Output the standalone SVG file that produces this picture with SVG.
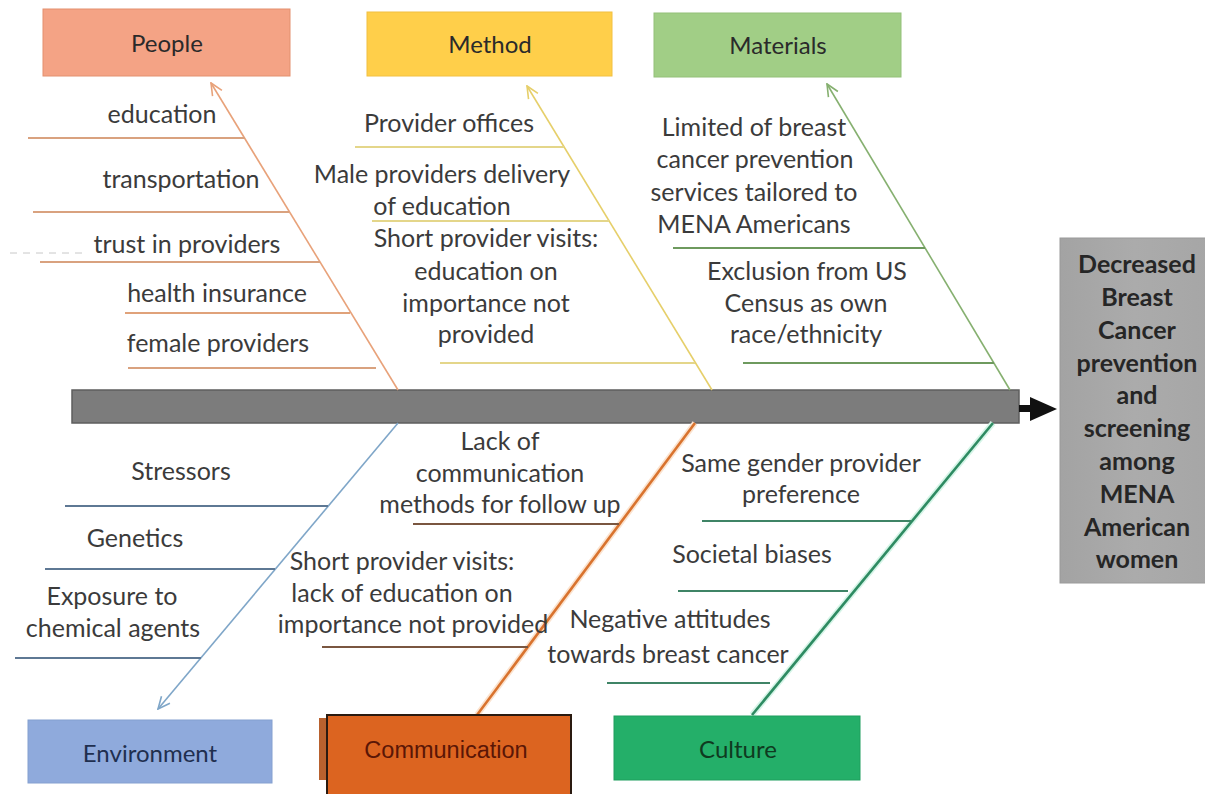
<svg xmlns="http://www.w3.org/2000/svg" width="1205" height="794" viewBox="0 0 1205 794">
  <style>
    .t { font-family: Lato, "Liberation Sans", sans-serif; font-size: 25px; fill: #3b3b3b; text-anchor: middle; }
    .h { font-family: Lato, "Liberation Sans", sans-serif; font-size: 24px; fill: #2a2a2a; text-anchor: middle; }
    .r { font-family: Lato, "Liberation Sans", sans-serif; font-size: 25px; font-weight: bold; fill: #262626; text-anchor: middle; }
    .bone { fill: none; stroke-width: 1.6; }
    .sub { fill: none; stroke-width: 2; }
  </style>
  <defs>
    <marker id="arrPeople" viewBox="0 0 14 14" refX="13" refY="7" markerWidth="14" markerHeight="14" markerUnits="userSpaceOnUse" orient="auto">
      <path d="M1,1.5 L13,7 L1,12.5" fill="none" stroke="#E8A27A" stroke-width="1.6"/>
    </marker>
    <marker id="arrMethod" viewBox="0 0 14 14" refX="13" refY="7" markerWidth="14" markerHeight="14" markerUnits="userSpaceOnUse" orient="auto">
      <path d="M1,1.5 L13,7 L1,12.5" fill="none" stroke="#E6CF6A" stroke-width="1.6"/>
    </marker>
    <marker id="arrMaterials" viewBox="0 0 14 14" refX="13" refY="7" markerWidth="14" markerHeight="14" markerUnits="userSpaceOnUse" orient="auto">
      <path d="M1,1.5 L13,7 L1,12.5" fill="none" stroke="#86B070" stroke-width="1.6"/>
    </marker>
    <marker id="arrEnv" viewBox="0 0 14 14" refX="13" refY="7" markerWidth="14" markerHeight="14" markerUnits="userSpaceOnUse" orient="auto">
      <path d="M1,1.5 L13,7 L1,12.5" fill="none" stroke="#7FA6C8" stroke-width="1.6"/>
    </marker>
    <linearGradient id="effectFill" x1="0" y1="0" x2="1" y2="0">
      <stop offset="0" stop-color="#A3A3A3"/>
      <stop offset="0.5" stop-color="#ABABAB"/>
      <stop offset="1" stop-color="#A6A6A6"/>
    </linearGradient>
  </defs>

  <rect width="1205" height="794" fill="#FFFFFF"/>

  <!-- spine and effect arrow -->
  <g id="spine">
    <rect x="72" y="390" width="947" height="33" fill="#7C7C7C" stroke="#5E5E5E" stroke-width="1.5"/>
    <rect x="1019" y="405" width="13" height="7" fill="#111111"/>
    <path d="M1030,397 L1057,409 L1030,421 Z" fill="#111111"/>
  </g>

  <!-- connectors: main bones and cause branches -->
  <g id="connectors">
    <!-- People -->
    <line class="bone" x1="398" y1="390" x2="211" y2="83" stroke="#E8A27A" marker-end="url(#arrPeople)"/>
    <line class="sub" x1="28" y1="138" x2="245" y2="138" stroke="#D9A27F"/>
    <line class="sub" x1="33" y1="212" x2="289" y2="212" stroke="#D9A27F"/>
    <line x1="10" y1="253" x2="88" y2="253" stroke="#C8C8C8" stroke-width="1" stroke-dasharray="7 6"/>
    <line class="sub" x1="40" y1="262" x2="320" y2="262" stroke="#D9A27F"/>
    <line class="sub" x1="125" y1="313" x2="350" y2="313" stroke="#E0A27A"/>
    <line class="sub" x1="128" y1="368" x2="376" y2="368" stroke="#D9A27F"/>

    <!-- Method -->
    <line class="bone" x1="712" y1="390" x2="527" y2="86" stroke="#E6CF6A" marker-end="url(#arrMethod)"/>
    <line class="sub" x1="355" y1="147" x2="564" y2="147" stroke="#E4D68A"/>
    <line class="sub" x1="372" y1="221" x2="609" y2="221" stroke="#E4D68A"/>
    <line class="sub" x1="440" y1="363" x2="695" y2="363" stroke="#E4D68A"/>

    <!-- Materials -->
    <line class="bone" x1="1010" y1="390" x2="827" y2="84" stroke="#86B070" marker-end="url(#arrMaterials)"/>
    <line class="sub" x1="673" y1="248" x2="925" y2="248" stroke="#6E9A5E"/>
    <line class="sub" x1="743" y1="363" x2="994" y2="363" stroke="#6E9A5E"/>

    <!-- Environment -->
    <line class="bone" x1="398" y1="423" x2="158" y2="709" stroke="#7FA6C8" marker-end="url(#arrEnv)"/>
    <line class="sub" x1="65" y1="506" x2="328" y2="506" stroke="#5E7894"/>
    <line class="sub" x1="45" y1="569" x2="275" y2="569" stroke="#5E7894"/>
    <line class="sub" x1="15" y1="658" x2="201" y2="658" stroke="#5E7894"/>

    <!-- Communication -->
    <line x1="695" y1="423" x2="477" y2="715" stroke="#FBE3CF" stroke-width="6"/>
    <line x1="695" y1="423" x2="477" y2="715" stroke="#D9732E" stroke-width="2.6"/>
    <line class="sub" x1="413" y1="524" x2="619" y2="524" stroke="#7A5640"/>
    <line class="sub" x1="322" y1="647" x2="528" y2="647" stroke="#7A5640"/>

    <!-- Culture -->
    <line x1="993" y1="423" x2="752" y2="715" stroke="#D6F5E8" stroke-width="6"/>
    <line x1="993" y1="423" x2="752" y2="715" stroke="#2E8B62" stroke-width="2.6"/>
    <line class="sub" x1="702" y1="521" x2="911" y2="521" stroke="#3F8466"/>
    <line class="sub" x1="678" y1="591" x2="848" y2="591" stroke="#3F8466"/>
    <line class="sub" x1="607" y1="683" x2="770" y2="683" stroke="#3F8466"/>
  </g>

  <!-- category boxes -->
  <g id="people">
    <rect x="43" y="9" width="247" height="67" fill="#F4A385" stroke="#E3906F" stroke-width="1"/>
    <text class="h" x="167" y="52">People</text>
  </g>
  <g id="method">
    <rect x="367" y="12" width="245" height="64" fill="#FFCF4A" stroke="#F2C040" stroke-width="1"/>
    <text class="h" x="490" y="53">Method</text>
  </g>
  <g id="materials">
    <rect x="654" y="13" width="247" height="64" fill="#A1CE86" stroke="#93C078" stroke-width="1"/>
    <text class="h" x="778" y="54">Materials</text>
  </g>
  <g id="environment">
    <rect x="28" y="720" width="244" height="63" fill="#8FAADC" stroke="#84A0D0" stroke-width="1"/>
    <text class="h" x="150" y="762" style="fill:#1F2F4F">Environment</text>
  </g>
  <g id="communication">
    <rect x="319" y="718" width="240" height="62" fill="#B8612E"/>
    <rect x="327" y="715" width="244" height="82" fill="#DC6420" stroke="#2A1A10" stroke-width="2"/>
    <text x="446" y="758" font-family="'Liberation Sans', Arial, sans-serif" font-size="23.5" fill="#5A1606" text-anchor="middle">Communication</text>
  </g>
  <g id="culture">
    <rect x="614" y="716" width="246" height="64" fill="#24AF69" stroke="#1E9E5E" stroke-width="1"/>
    <text class="h" x="738" y="758" style="fill:#0F3A20">Culture</text>
  </g>

  <!-- effect box -->
  <g id="effect">
    <rect x="1060" y="238" width="150" height="345" fill="url(#effectFill)" stroke="#9A9A9A" stroke-width="1"/>
    <text class="r" x="1137" y="273">Decreased</text>
    <text class="r" x="1137" y="306">Breast</text>
    <text class="r" x="1137" y="339">Cancer</text>
    <text class="r" x="1137" y="372">prevention</text>
    <text class="r" x="1137" y="404">and</text>
    <text class="r" x="1137" y="437">screening</text>
    <text class="r" x="1137" y="470">among</text>
    <text class="r" x="1137" y="503">MENA</text>
    <text class="r" x="1137" y="536">American</text>
    <text class="r" x="1137" y="568">women</text>
  </g>

  <!-- cause labels -->
  <g id="people-causes">
    <text class="t" x="162" y="123">education</text>
    <text class="t" x="181" y="188">transportation</text>
    <text class="t" x="187" y="253">trust in providers</text>
    <text class="t" x="217" y="302">health insurance</text>
    <text class="t" x="218" y="352">female providers</text>
  </g>
  <g id="method-causes">
    <text class="t" x="449" y="132">Provider offices</text>
    <text class="t" x="442" y="183">Male providers delivery</text>
    <text class="t" x="442" y="215">of education</text>
    <text class="t" x="486" y="247">Short provider visits:</text>
    <text class="t" x="486" y="280">education on</text>
    <text class="t" x="486" y="312">importance not</text>
    <text class="t" x="486" y="343">provided</text>
  </g>
  <g id="materials-causes">
    <text class="t" x="754" y="136">Limited of breast</text>
    <text class="t" x="755" y="168">cancer prevention</text>
    <text class="t" x="754" y="201">services tailored to</text>
    <text class="t" x="754" y="233">MENA Americans</text>
    <text class="t" x="807" y="280">Exclusion from US</text>
    <text class="t" x="806" y="312">Census as own</text>
    <text class="t" x="806" y="343">race/ethnicity</text>
  </g>
  <g id="environment-causes">
    <text class="t" x="181" y="480">Stressors</text>
    <text class="t" x="135" y="547">Genetics</text>
    <text class="t" x="112" y="605">Exposure to</text>
    <text class="t" x="113" y="637">chemical agents</text>
  </g>
  <g id="communication-causes">
    <text class="t" x="500" y="450">Lack of</text>
    <text class="t" x="500" y="482">communication</text>
    <text class="t" x="500" y="513">methods for follow up</text>
    <text class="t" x="402" y="570">Short provider visits:</text>
    <text class="t" x="402" y="602">lack of education on</text>
    <text class="t" x="413" y="633">importance not provided</text>
  </g>
  <g id="culture-causes">
    <text class="t" x="801" y="472">Same gender provider</text>
    <text class="t" x="801" y="503">preference</text>
    <text class="t" x="752" y="563">Societal biases</text>
    <text class="t" x="670" y="628">Negative attitudes</text>
    <text class="t" x="668" y="663">towards breast cancer</text>
  </g>
</svg>
